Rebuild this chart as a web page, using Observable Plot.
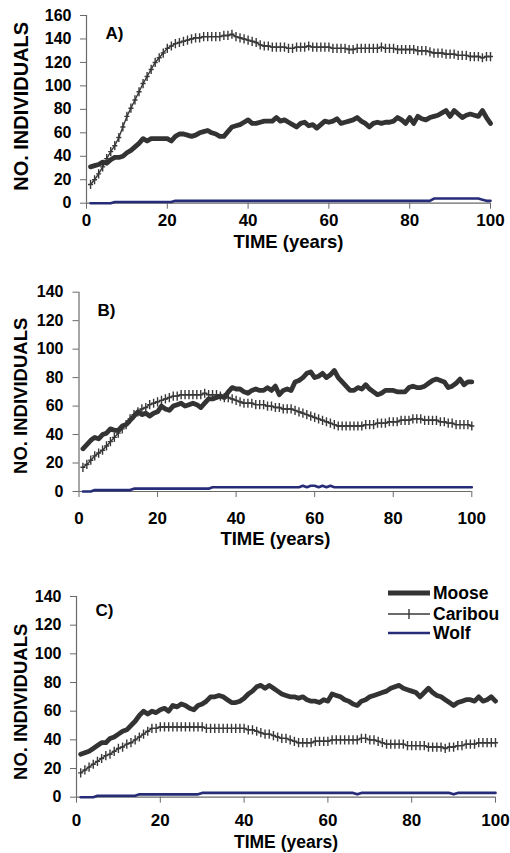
<!DOCTYPE html>
<html>
<head>
<meta charset="utf-8">
<script src="https://cdn.jsdelivr.net/npm/d3@7"></script>
<script src="https://cdn.jsdelivr.net/npm/@observablehq/plot@0.6"></script>
<style>
  html, body { margin: 0; padding: 0; background: #fff; }
  #wrap { position: relative; width: 510px; height: 853px; overflow: hidden; background: #fff; }
  #wrap > svg { position: absolute; left: 0; }
</style>
</head>
<body>
<div id="wrap"></div>
<script>
// ---------- data ----------
const years = d3.range(1, 101);
const xTicks = [0, 20, 40, 60, 80, 100];
const yTicksA = [0, 20, 40, 60, 80, 100, 120, 140, 160];
const yTicksBC = [0, 20, 40, 60, 80, 100, 120, 140];
const panelLabels = ["A)", "B)", "C)"];
const seriesNames = ["Moose", "Caribou", "Wolf"];
const xTitle = "TIME (years)";
const yTitle = "NO. INDIVIDUALS";

const mooseA = [31,32,33,35,34,37,39,39,40,43,
 45,48,51,55,53,55,55,55,55,55,
 53,57,59,59,58,57,58,60,61,62,
 60,59,57,57,61,65,66,67,69,71,
 68,68,69,70,70,70,73,70,71,69,
 67,65,68,69,66,67,64,67,70,69,
 70,72,68,69,70,71,73,70,68,65,
 68,69,68,69,69,70,73,71,68,73,
 68,74,72,71,73,74,75,77,79,74,
 79,76,73,75,76,75,74,79,73,68];
const caribouA = [16,20,25,31,38,44,49,56,65,74,
 81,88,95,102,108,114,120,124,128,132,
 134,136,137,138,139,140,141,141,142,142,
 142,142,142,143,143,144,142,141,140,139,
 138,137,135,134,134,133,133,133,133,132,
 132,133,133,133,134,133,133,133,133,133,
 132,132,132,132,131,131,132,132,132,132,
 132,132,133,132,132,132,131,131,131,131,
 131,130,130,130,129,128,128,128,127,127,
 127,126,126,126,125,125,125,124,125,125];
const wolfA = [0,0,0,0,0,0,1,1,1,1,
 1,1,1,1,1,1,1,1,1,1,
 1,2,2,2,2,2,2,2,2,2,
 2,2,2,2,2,2,2,2,2,2,
 2,2,2,2,2,2,2,2,2,2,
 2,2,2,2,2,2,2,2,2,2,
 2,2,2,2,2,2,2,2,2,2,
 2,2,2,2,2,2,2,2,2,2,
 2,2,2,2,2,4,4,4,4,4,
 4,4,4,4,4,4,4,3,2,2];

const mooseB = [30,33,36,38,37,40,41,44,43,43,
 46,47,50,53,56,54,55,53,55,56,
 60,58,57,60,61,62,60,61,62,61,
 59,62,65,65,66,67,66,70,73,72,
 72,70,69,71,72,71,71,73,71,74,
 68,71,72,71,77,78,80,83,84,80,
 81,83,80,82,85,80,77,74,71,71,
 73,72,75,72,70,68,69,71,71,71,
 70,70,70,73,74,73,73,74,76,78,
 79,78,77,73,74,76,79,75,77,77];
const caribouB = [17,19,22,25,27,29,32,35,38,41,
 44,47,51,54,56,58,59,61,62,63,
 64,65,66,67,67,68,68,68,68,68,
 68,69,68,68,68,67,66,66,65,64,
 63,62,62,62,61,61,61,60,60,59,
 59,58,58,58,57,56,55,54,53,52,
 51,50,49,48,47,46,46,46,46,46,
 46,46,47,47,47,48,48,48,49,49,
 49,50,50,50,51,51,51,50,50,50,
 50,49,49,48,48,47,47,47,47,46];
const wolfB = [0,0,0,1,1,1,1,1,1,1,
 1,1,1,2,2,2,2,2,2,2,
 2,2,2,2,2,2,2,2,2,2,
 2,2,2,3,3,3,3,3,3,3,
 3,3,3,3,3,3,3,3,3,3,
 3,3,3,3,3,3,4,3,4,4,
 3,4,3,4,3,3,3,3,3,3,
 3,3,3,3,3,3,3,3,3,3,
 3,3,3,3,3,3,3,3,3,3,
 3,3,3,3,3,3,3,3,3,3];

const mooseC = [30,31,32,34,36,38,38,41,42,44,
 46,47,50,53,57,60,58,60,59,61,
 62,60,64,63,65,64,62,61,64,65,
 67,70,70,71,70,68,66,66,67,69,
 72,74,77,78,76,78,76,74,72,71,
 70,70,69,70,68,67,67,66,68,67,
 72,71,70,68,67,65,64,67,68,70,
 71,72,73,74,76,77,78,76,75,74,
 73,70,73,76,73,71,70,68,66,64,
 66,67,68,68,67,70,67,68,70,67];
const caribouC = [17,19,21,23,25,27,29,30,32,34,
 35,37,38,40,42,44,46,48,48,49,
 49,49,49,49,49,49,49,49,49,49,
 48,48,48,48,48,48,48,48,48,48,
 47,47,46,45,44,44,43,42,41,41,
 40,39,38,38,38,38,39,39,39,39,
 40,40,40,40,40,40,40,41,41,40,
 40,39,38,37,37,37,37,37,36,36,
 36,36,36,35,35,35,35,34,35,35,
 36,36,37,37,37,38,38,38,38,38];
const wolfC = [0,0,0,0,1,1,1,1,1,1,
 1,1,1,1,2,2,2,2,2,2,
 2,2,2,2,2,2,2,2,2,3,
 3,3,3,3,3,3,3,3,3,3,
 3,3,3,3,3,3,3,3,3,3,
 3,3,3,3,3,3,3,3,3,3,
 3,3,3,3,3,3,2,3,3,3,
 3,3,3,3,3,3,3,3,3,3,
 3,3,3,3,3,3,3,3,3,2,
 3,3,3,3,3,3,3,3,3,3];

// ---------- styling ----------
const FONT = "'Liberation Sans', Arial, Helvetica, sans-serif";
const MOOSE_C = "#333333", CARIBOU_C = "#383838", WOLF_C = "#262c78", AXIS_C = "#6a6a6a";

const rows = vals => vals.map((v, i) => ({t: years[i], v}));

// plus-shaped marker for caribou
const plusSym = {
  draw(ctx, size) {
    const r = Math.sqrt(size / Math.PI);
    ctx.moveTo(0, -r); ctx.lineTo(0, r);
    ctx.moveTo(-r * 0.55, 0); ctx.lineTo(r * 0.55, 0);
  }
};

function panel(cfg) {
  const {label, yTicks, ymax, moose, caribou, wolf, top, height, mt, mb, ml, mr,
         xPad, yPad, xTitleDy, xTitleSize, yTitleDx, yTitleDy, yTitleSize, lblDx, lblDy} = cfg;
  const svg = Plot.plot({
    width: 510, height,
    marginTop: mt, marginBottom: mb, marginLeft: ml, marginRight: mr,
    x: {domain: [0, 100]},
    y: {domain: [0, ymax]},
    style: {fontFamily: FONT, fontWeight: "bold", color: "#000", background: "#fff", overflow: "visible"},
    marks: [
      Plot.axisY(yTicks, {label: null, tickSize: 6, tickPadding: yPad, fontSize: 16, stroke: AXIS_C, fill: "#000"}),
      Plot.axisX(xTicks, {label: null, tickSize: 6, tickPadding: xPad, fontSize: 17, stroke: AXIS_C, fill: "#000"}),
      Plot.ruleX([0], {stroke: AXIS_C, strokeWidth: 1.2}),
      Plot.ruleY([0], {stroke: AXIS_C, strokeWidth: 1.2}),
      Plot.line(rows(wolf), {x: "t", y: "v", stroke: WOLF_C, strokeWidth: 2.6}),
      Plot.line(rows(caribou), {x: "t", y: "v", stroke: CARIBOU_C, strokeWidth: 1.4}),
      Plot.dot(rows(caribou), {x: "t", y: "v", symbol: plusSym, r: 4.6, stroke: CARIBOU_C, strokeWidth: 1.4, fill: "none"}),
      Plot.line(rows(moose), {x: "t", y: "v", stroke: MOOSE_C, strokeWidth: 4.8, strokeLinejoin: "round"}),
      Plot.text([label], {frameAnchor: "top-left", textAnchor: "start", lineAnchor: "top", dx: lblDx, dy: lblDy, fontSize: 17, fill: "#000"}),
      Plot.text([yTitle], {frameAnchor: "left", rotate: -90, textAnchor: "middle", lineAnchor: "middle", dx: yTitleDx, dy: yTitleDy, fontSize: yTitleSize, fill: "#000"}),
      Plot.text([xTitle], {frameAnchor: "bottom", textAnchor: "middle", lineAnchor: "middle", dy: xTitleDy, fontSize: xTitleSize, fill: "#000"})
    ]
  });
  svg.style.top = top + "px";
  document.getElementById("wrap").appendChild(svg);
}

panel({label: panelLabels[0], yTicks: yTicksA, ymax: 160, moose: mooseA, caribou: caribouA, wolf: wolfA,
  top: 0, height: 270, mt: 15, mb: 67.3, ml: 86, mr: 20,
  xPad: 5, yPad: 9, xTitleDy: 39, xTitleSize: 18.5, yTitleDx: -65, yTitleDy: -3, yTitleSize: 20, lblDx: 19, lblDy: 11});
panel({label: panelLabels[1], yTicks: yTicksBC, ymax: 140, moose: mooseB, caribou: caribouB, wolf: wolfB,
  top: 280, height: 290, mt: 11.7, mb: 79, ml: 78.5, mr: 38.7,
  xPad: 14, yPad: 9.5, xTitleDy: 47.5, xTitleSize: 18.5, yTitleDx: -57.5, yTitleDy: 4, yTitleSize: 18.5, lblDx: 18.5, lblDy: 11.5});
panel({label: panelLabels[2], yTicks: yTicksBC, ymax: 140, moose: mooseC, caribou: caribouC, wolf: wolfC,
  top: 570, height: 283, mt: 26, mb: 56.3, ml: 76, mr: 15,
  xPad: 11, yPad: 9, xTitleDy: 45.5, xTitleSize: 17.5, yTitleDx: -55, yTitleDy: 5, yTitleSize: 18.5, lblDx: 19, lblDy: 7.5});

// ---------- legend (panel C) ----------
const legend = d3.select("#wrap").append("svg")
  .attr("width", 130).attr("height", 75)
  .style("top", "580px").style("left", "380px")
  .style("font-family", FONT).style("font-weight", "bold");
const legendY = [13, 34, 53];
seriesNames.forEach((name, i) => {
  const y = legendY[i];
  const g = legend.append("g");
  g.append("line").attr("x1", 8).attr("x2", 50).attr("y1", y).attr("y2", y)
    .attr("stroke", i === 0 ? MOOSE_C : i === 1 ? CARIBOU_C : WOLF_C)
    .attr("stroke-width", i === 0 ? 4.8 : i === 1 ? 1.4 : 2.6);
  if (i === 1) {
    g.append("line").attr("x1", 29).attr("x2", 29).attr("y1", y - 5).attr("y2", y + 5)
      .attr("stroke", CARIBOU_C).attr("stroke-width", 1.4);
  }
  g.append("text").attr("x", 53).attr("y", y).attr("dy", "0.36em")
    .attr("font-size", 17.5).attr("fill", "#000").text(name);
});
</script>
</body>
</html>
